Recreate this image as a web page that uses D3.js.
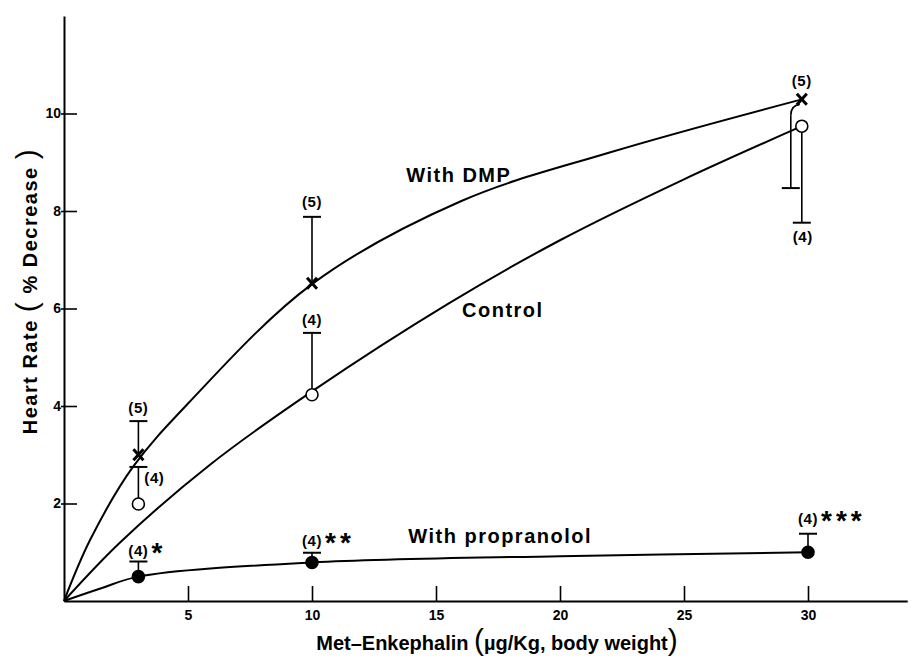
<!DOCTYPE html>
<html>
<head>
<meta charset="utf-8">
<script src="https://cdn.jsdelivr.net/npm/d3@7"></script>
<style>
  body { margin: 0; background: #fff; }
  svg { display: block; font-family: "Liberation Sans", Arial, sans-serif; }
</style>
</head>
<body>
<svg id="chart"></svg>
<script>
// Dose (µg/Kg) of the marked points in each group
const doseDMP = [3, 10, 29.75];
const doseControl = [3, 10, 29.75];
const dosePropranolol = [3, 10, 30];

// Mean heart rate decrease (%)
const meanDMP = [3.0, 6.52, 10.29];
const meanControl = [1.99, 4.23, 9.74];
const meanPropranolol = [0.5, 0.79, 1.0];

// Far end of each error bar
const errDMP = [3.69, 7.88, 8.47];
const errControl = [2.75, 5.5, 7.76];
const errPropranolol = [0.81, 0.99, 1.38];

// Number of animals and significance marks
const nDMP = ["(5)", "(5)", "(5)"];
const nControl = ["(4)", "(4)", "(4)"];
const nPropranolol = ["(4)", "(4)", "(4)"];
const starsPropranolol = ["*", "**", "***"];

// Hand drawn curves as [dose, % decrease]
const curveDMP = [[0, 0], [1.05, 1.25], [2.78, 2.75], [5, 4.05], [10, 6.5],
                  [16, 8.2], [22, 9.2], [29.75, 10.29]];
const curveControl = [[0, 0], [2.26, 1.2], [5.9, 2.8], [10, 4.3], [15.5, 6.1],
                      [20, 7.4], [25, 8.65], [29.75, 9.74]];
const curvePropranolol = [[0, 0], [1.5, 0.26], [3, 0.5], [10, 0.79], [20, 0.92], [30, 1.0]];

const curveNames = ["With DMP", "Control", "With propranolol"];
const xTicks = [5, 10, 15, 20, 25, 30];
const yTicks = [2, 4, 6, 8, 10];

const width = 911, height = 659;

const svg = d3.select("#chart")
    .attr("width", width)
    .attr("height", height);

const x = d3.scaleLinear().domain([0, 34]).range([64, 907.2]);
const y = d3.scaleLinear().domain([0, 12]).range([601, 16]);

// axes - ticks point inwards like the original
const yAxis = svg.append("g")
    .attr("transform", `translate(${x(0)},0)`)
    .call(d3.axisLeft(y).tickValues(yTicks).tickSizeInner(-13).tickSizeOuter(0).tickPadding(3));

const xAxis = svg.append("g")
    .attr("transform", `translate(0,${y(0)})`)
    .call(d3.axisBottom(x).tickValues(xTicks).tickSizeInner(-15).tickSizeOuter(0).tickPadding(9));

[yAxis, xAxis].forEach(g => {
    g.attr("font-family", null).attr("font-size", 14).attr("font-weight", "bold");
    g.select(".domain").attr("stroke-width", 2);
    g.selectAll(".tick line").attr("stroke-width", 1.6);
});
yAxis.selectAll(".tick line").attr("x1", -3);

const series = [
    {dose: doseDMP, mean: meanDMP, err: errDMP, n: nDMP, curve: curveDMP, marker: "x"},
    {dose: doseControl, mean: meanControl, err: errControl, n: nControl, curve: curveControl, marker: "open"},
    {dose: dosePropranolol, mean: meanPropranolol, err: errPropranolol, n: nPropranolol, curve: curvePropranolol, marker: "filled"}
];

// where the (n) labels sit, in pixels from the bar end or the point
const labelLayout = [
    [{ref: "err", dx: 0, dy: -8}, {ref: "err", dx: 0, dy: -10}, {ref: "mean", dx: 0, dy: -13}],
    [{ref: "err", dx: 16, dy: 16}, {ref: "err", dx: 0, dy: -8}, {ref: "err", dx: 1, dy: 19}],
    [{ref: "err", dx: 0, dy: -6}, {ref: "err", dx: 0, dy: -7}, {ref: "err", dx: 0, dy: -10}]
];
// the DMP bar at the top dose is pushed left so it does not sit on the control bar
const barShift = [[0, 0, -11], [0, 0, 0], [0, 0, 0]];

const line = d3.line()
    .x(d => x(d[0]))
    .y(d => y(d[1]))
    .curve(d3.curveCatmullRom.alpha(0.5));

series.forEach(s => {
    svg.append("path")
        .attr("d", line(s.curve))
        .attr("fill", "none")
        .attr("stroke", "#000")
        .attr("stroke-width", 2);
});

series.forEach((s, si) => {
    s.dose.forEach((d, i) => {
        const px = x(d), py = y(s.mean[i]), ey = y(s.err[i]);
        const bx = px + barShift[si][i];
        let startY = py;
        if (bx !== px) {
            // little kink from the marker over to the shifted bar
            startY = py + 16;
            svg.append("path")
                .attr("d", `M${px - 2},${py + 5} Q${bx},${py + 6} ${bx},${startY}`)
                .attr("fill", "none").attr("stroke", "#000").attr("stroke-width", 1.6);
        }
        svg.append("line")
            .attr("x1", bx).attr("x2", bx)
            .attr("y1", startY).attr("y2", ey)
            .attr("stroke", "#000").attr("stroke-width", 1.6);
        svg.append("line")
            .attr("x1", bx - 9).attr("x2", bx + 9)
            .attr("y1", ey).attr("y2", ey)
            .attr("stroke", "#000").attr("stroke-width", 2);
    });
});

// markers
series.forEach(s => {
    s.dose.forEach((d, i) => {
        const px = x(d), py = y(s.mean[i]);
        if (s.marker === "x") {
            svg.append("path")
                .attr("d", `M${px - 5},${py - 5.5}L${px + 5},${py + 5.5}M${px + 5},${py - 5.5}L${px - 5},${py + 5.5}`)
                .attr("stroke", "#000").attr("stroke-width", 3);
        } else {
            svg.append("circle")
                .attr("cx", px).attr("cy", py).attr("r", 6)
                .attr("fill", s.marker === "filled" ? "#000" : "#fff")
                .attr("stroke", "#000").attr("stroke-width", 1.6);
        }
    });
});

// (n) labels and stars
series.forEach((s, si) => {
    s.dose.forEach((d, i) => {
        const lay = labelLayout[si][i];
        const ry = lay.ref === "err" ? y(s.err[i]) : y(s.mean[i]);
        const lx = x(d) + lay.dx, ly = ry + lay.dy;
        svg.append("text")
            .attr("x", lx).attr("y", ly)
            .attr("text-anchor", "middle")
            .attr("font-size", 15).attr("font-weight", "bold")
            .attr("letter-spacing", 0.6)
            .text(s.n[i]);
        if (si === 2) {
            svg.append("text")
                .attr("x", lx + 13).attr("y", ly + 6)
                .attr("font-size", 28).attr("font-weight", "bold")
                .attr("letter-spacing", 4)
                .text(starsPropranolol[i]);
        }
    });
});

// curve names, placed in data units
const namePos = [[13.8, 8.6], [16.05, 5.82], [13.88, 1.2]];
curveNames.forEach((t, i) => {
    svg.append("text")
        .attr("x", x(namePos[i][0])).attr("y", y(namePos[i][1]))
        .attr("font-size", 20).attr("font-weight", "bold")
        .attr("letter-spacing", 1.5)
        .text(t);
});

// axis titles with the tall brackets of the original
const yTitle = svg.append("text")
    .attr("transform", "translate(37,291) rotate(-90)")
    .attr("text-anchor", "middle")
    .attr("font-size", 20).attr("font-weight", "bold")
    .attr("letter-spacing", 1.5);
yTitle.append("tspan").text("Heart Rate ");
yTitle.append("tspan").attr("font-size", 30).attr("font-weight", "normal").text("(");
yTitle.append("tspan").text(" % Decrease ");
yTitle.append("tspan").attr("font-size", 30).attr("font-weight", "normal").text(")");

const xTitle = svg.append("text")
    .attr("x", 497).attr("y", 650)
    .attr("text-anchor", "middle")
    .attr("font-size", 20).attr("font-weight", "bold");
xTitle.append("tspan").text("Met\u2013Enkephalin ");
xTitle.append("tspan").attr("font-size", 30).attr("font-weight", "normal").text("(");
xTitle.append("tspan").text("\u00b5g/Kg, body weight");
xTitle.append("tspan").attr("font-size", 30).attr("font-weight", "normal").text(")");
</script>
</body>
</html>
